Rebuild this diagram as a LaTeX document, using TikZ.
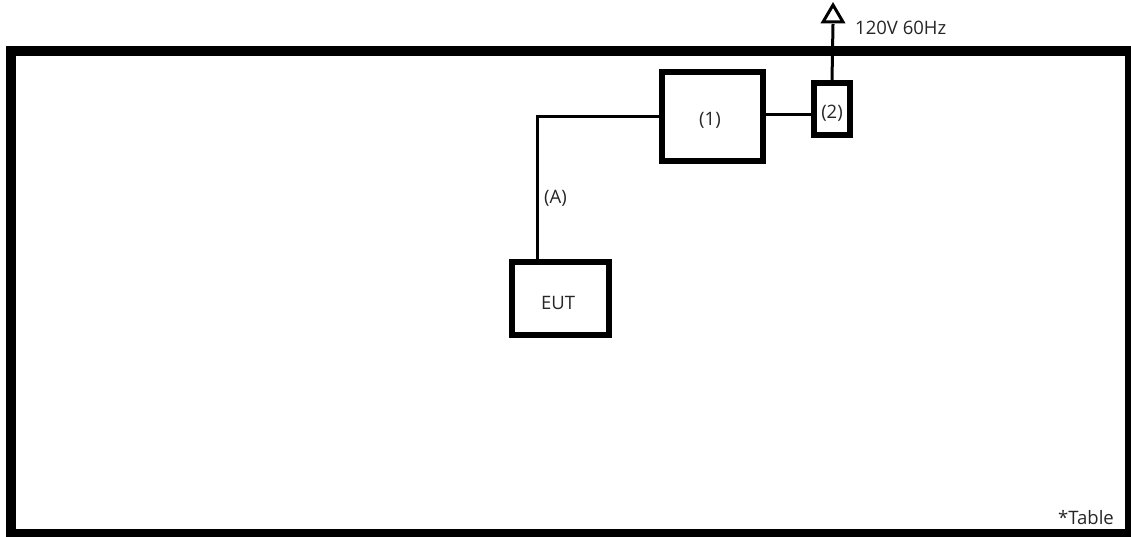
\documentclass[tikz,border=0pt]{standalone}
\usepackage{fontspec}
\setmainfont{Open Sans}
\begin{document}
\begin{tikzpicture}[x=1pt,y=-1pt,
  box/.style={draw=black,line width=6pt,inner sep=0pt},
  wire/.style={draw=black,line width=3pt},
  lbl/.style={font=\fontsize{18.5}{20}\selectfont,text=black!85,inner sep=0pt}]
\useasboundingbox (0,0) rectangle (1131,537);
% table frame
\draw[line width=10pt] (11,51) rectangle (1130,534);
% boxes
\node[box,minimum width=101pt,minimum height=88.5pt] (b1) at (712.5,116.75) {};
\node[box,minimum width=36pt,minimum height=52.5pt] (b2) at (832,109.25) {};
\node[box,minimum width=97.5pt,minimum height=73pt] (eut) at (560.25,298.5) {};
\node[lbl] at (710,120) {(1)};
\node[lbl] at (832,113) {(2)};
\node[lbl] at (558,303) {EUT};
\node[lbl,anchor=west] (la) at (544,198) {(A)};
\node[lbl,anchor=base west] (pw) at (855,35) {120V 60Hz};
\node[lbl,anchor=south east] (tb) at (1114,525) {*Table};
% connectors
\coordinate (bend) at (537,117);
\draw[wire] (eut.north -| bend) -- (bend) -- (b1.west |- bend);
\draw[wire] (b1.east |- 0,115) -- (b2.west |- 0,115);
\coordinate (tip) at (833,24);
\draw[wire] (b2.north) -- (tip);
\draw[line width=3pt,fill=white,line join=miter] (823,22) -- (833,5) -- (843,22) -- cycle;
\end{tikzpicture}
\end{document}
